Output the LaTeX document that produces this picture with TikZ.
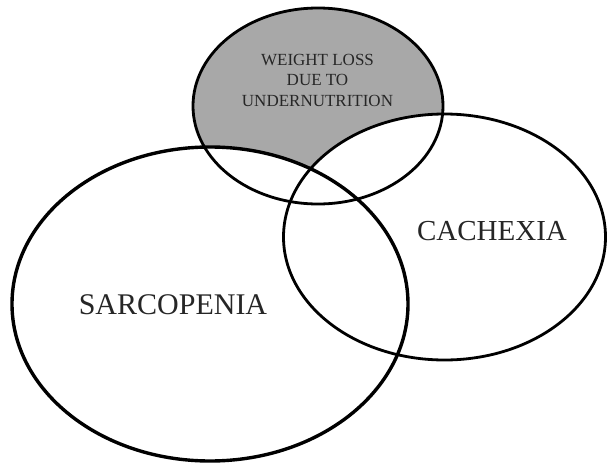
\documentclass[tikz,border=0pt]{standalone}
\usepackage{fontspec}
\setmainfont{Liberation Serif}
\usetikzlibrary{positioning}

\definecolor{wlgray}{RGB}{168,168,168}

\begin{document}
\begin{tikzpicture}[
  x=1pt, y=-1pt,
  ring/.style={draw=black, line width=2.8pt},
  bigring/.style={draw=black, line width=3.4pt},
  lbl/.style={text=black!85, align=center, inner sep=0pt,
    font=\fontsize{17}{20.5}\selectfont},
  biglbl/.style={text=black!85, inner sep=0pt,
    font=\fontsize{30}{34}\selectfont}
]
\useasboundingbox (0,0) rectangle (608,463);

% ================= FILLS =================
\fill[wlgray] (318,106) ellipse [x radius=125pt, y radius=98pt];
\fill[white] (210,304) ellipse [x radius=198pt, y radius=157pt];
\fill[white] (444.5,237) ellipse [x radius=161pt, y radius=123pt];

% ================= OUTLINES =================
\draw[ring] (318,106) ellipse [x radius=125pt, y radius=98pt];
\draw[bigring] (210,304) ellipse [x radius=198pt, y radius=157pt];
\draw[ring] (444.5,237) ellipse [x radius=161pt, y radius=123pt];

% ================= LABELS =================
\node[lbl] (wl) at (317.5,80) {WEIGHT LOSS\\DUE TO\\UNDERNUTRITION};
\node[biglbl] (sarc) at (173,305) {SARCOPENIA};
\node[biglbl, font=\fontsize{29}{33}\selectfont] (cach) at (492,231) {CACHEXIA};
\end{tikzpicture}
\end{document}
